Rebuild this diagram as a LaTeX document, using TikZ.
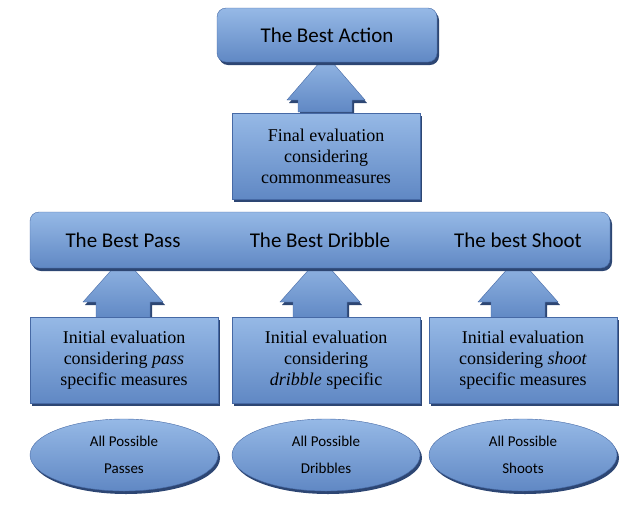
\documentclass[tikz,border=0pt]{standalone}
\usepackage{fontspec}
\setmainfont{Liberation Serif}
\newfontfamily\calib{Carlito}
\usetikzlibrary{positioning,shadows,shapes.geometric}
\definecolor{boxblue}{RGB}{96,136,196}
\definecolor{boxlight}{RGB}{150,185,230}
\definecolor{boxedge}{RGB}{70,105,165}
\definecolor{boxshade}{RGB}{45,70,115}

\tikzset{
  blue fill/.style={top color=boxlight, bottom color=boxblue, draw=boxedge,
    drop shadow={shadow xshift=2pt, shadow yshift=-3pt, fill=boxshade, opacity=1}},
  goal/.style={blue fill, rounded corners=9pt, font=\calib\fontsize{21}{24}\selectfont},
  evalbox/.style={blue fill, minimum width=188pt, minimum height=86pt, align=center,
    font=\fontsize{18}{21}\selectfont, inner sep=2pt},
  option/.style={blue fill, ellipse, minimum width=188pt, minimum height=72pt,
    align=center, font=\calib\fontsize{15}{27}\selectfont},
  uparrow/.style={blue fill}
}

\begin{document}
\begin{tikzpicture}[x=1pt,y=-1pt]
\useasboundingbox (0,0) rectangle (643,515);
% arrows first, behind the boxes
\draw[uparrow] (298,112) -- (298,100) -- (287,100) -- (326,55) -- (365,100) -- (352,100) -- (352,112) -- cycle;
\foreach \cx in {123,320,518} {
  \draw[uparrow] (\cx-27,319) -- (\cx-27,302) -- (\cx-40,302) -- (\cx,257) -- (\cx+40,302) -- (\cx+27,302) -- (\cx+27,319) -- cycle;
}
% top goal
\node[goal, minimum width=220pt, minimum height=54pt] (action) at (327,35) {The Best Action};
\node[evalbox] (final) at (326,156) {Final evaluation\\considering\\commonmeasures};
% middle bar
\node[goal, minimum width=580pt, minimum height=56pt] (bar) at (320,240) {};
\node[font=\calib\fontsize{21}{24}\selectfont] (pass) at (123,240) {The Best Pass};
\node[font=\calib\fontsize{21}{24}\selectfont] (dribble) at (320,240) {The Best Dribble};
\node[font=\calib\fontsize{21}{24}\selectfont] (shoot) at (518,240) {The best Shoot};
% initial evaluations
\node[evalbox] (evpass) at (124,360) {Initial evaluation\\considering \textit{pass}\\specific measures};
\node[evalbox] (evdribble) at (326,360) {Initial evaluation\\considering\\\textit{dribble} specific};
\node[evalbox] (evshoot) at (523,360) {Initial evaluation\\considering \textit{shoot}\\specific measures};
% possible actions
\node[option] (passes) at (124,455) {All Possible\\Passes};
\node[option] (dribbles) at (326,455) {All Possible\\Dribbles};
\node[option] (shoots) at (523,455) {All Possible\\Shoots};
\end{tikzpicture}
\end{document}
